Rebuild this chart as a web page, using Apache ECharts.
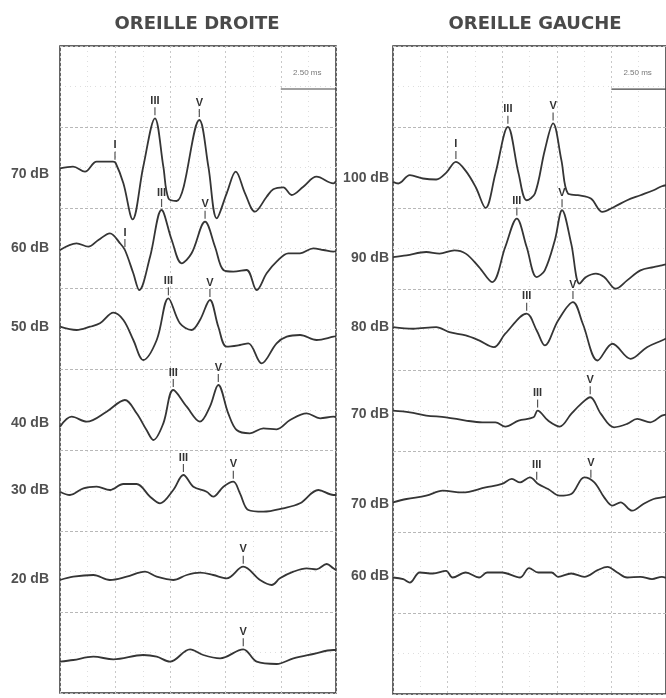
<!DOCTYPE html>
<html>
<head>
<meta charset="utf-8">
<script src="https://cdn.jsdelivr.net/npm/echarts/dist/echarts.min.js"></script>
<style>html,body{margin:0;padding:0;background:#fff}#c{width:666px;height:698px}</style>
</head>
<body>
<div id="c"></div>
<script>
// ---- Time axis (ms) ----
const timeMin = 0, timeMax = 12.5, timeStep = 2.5;
const ampMin = 0, ampMax = 647, ampStep = 80.875;

// ---- OREILLE DROITE ----
const droiteLevels = ['70 dB', '60 dB', '50 dB', '40 dB', '30 dB', '20 dB', ''];
const droiteBase = [519, 445, 366, 270, 203, 114, 31];
const droite70 = [[0,5.7],[0.59,7.3],[1.13,2.3],[1.66,12.3],[2.40,12.3],[2.52,11],[2.87,-9.3],[3.29,-45.3],[3.77,7.3],[4.30,55.7],[4.68,7.3],[4.91,-24.3],[5.28,-27],[6.31,54],[6.72,7.3],[7.10,-44.3],[7.55,-19.3],[7.96,2.3],[8.38,-19.3],[8.83,-37.7],[9.36,-22.7],[9.66,-15.3],[10.11,-13.3],[10.49,-21],[11.02,-12.7],[11.62,-2.7],[12.38,-9.3],[12.5,-7]];
const droite60 = [[0,-2],[0.75,4.7],[1.28,1.3],[1.74,8],[2.26,14.7],[2.72,4.7],[2.94,-2],[3.32,-25.3],[3.59,-42],[4.08,-8.7],[4.60,38],[5.06,8],[5.51,-15.3],[5.96,-5.3],[6.57,26.3],[7.02,1.3],[7.40,-22],[7.85,-23.7],[8.45,-22],[8.91,-42],[9.36,-25.3],[9.81,-13.7],[10.34,-5.3],[10.87,-5.3],[11.47,-0.3],[11.93,-2],[12.38,-3.7],[12.5,-3]];
const droite50 = [[0,0.3],[0.75,-3],[1.36,0.3],[1.81,3.7],[2.42,14.3],[2.87,7],[3.32,-13],[3.77,-33],[4.38,-13],[4.91,28.7],[5.43,3.7],[5.96,-3],[6.34,7],[6.79,27],[7.17,0.3],[7.55,-19.7],[8.15,-18],[8.53,-16.3],[9.13,-36.3],[9.81,-16.3],[10.27,-9.7],[10.87,-8],[11.62,-13],[12.38,-9.7],[12.5,-9]];
const droite40 = [[0,-3.7],[0.53,6.3],[1.21,1.3],[2.11,11.3],[2.94,23],[3.47,9.7],[3.92,-7],[4.23,-17],[4.68,-0.3],[5.13,33],[5.74,16.3],[6.34,1.3],[6.79,16.3],[7.17,38],[7.62,9.7],[8.0,-7],[8.60,-10.3],[9.21,-5.3],[9.81,-6.3],[10.42,3],[11.17,9.7],[11.78,4.7],[12.38,6.3],[12.5,6]];
const droite30 = [[0,-1.7],[0.45,-5],[1.06,1.7],[1.66,3.3],[2.26,0],[2.87,6],[3.47,6],[4.08,-6.7],[4.53,-13.3],[5.13,0],[5.59,15],[6.04,3.3],[6.64,-1.7],[6.94,-6.7],[7.40,3.3],[7.85,8.3],[8.15,-3.3],[8.53,-20],[9.21,-21.7],[10.11,-18.3],[10.87,-13.3],[11.70,0],[12.38,-5],[12.5,-5]];
const droite20 = [[0,-1],[0.60,2.3],[1.51,4],[2.26,-1],[3.02,2.3],[3.85,7.3],[4.38,2.3],[5.13,-1],[5.74,4],[6.34,6.3],[6.94,4],[7.55,0.7],[8.30,12.3],[9.06,-1],[9.59,-6],[9.96,0.7],[10.57,7.3],[11.17,10.7],[11.62,9.7],[12.08,15],[12.38,10.7],[12.5,9]];
const droiteBottom = [[0,0.3],[0.60,2],[1.51,5.3],[2.42,2.7],[3.77,7],[4.38,5.3],[4.98,0.3],[5.89,12.7],[6.49,7],[7.25,3.7],[8.30,12.7],[8.91,0.3],[9.81,-2],[10.57,3.7],[11.47,8],[12.38,12],[12.5,12]];
const droiteTraces = [droite70, droite60, droite50, droite40, droite30, droite20, droiteBottom];
const droiteMarks = [
  [['I',2.49],['III',4.30],['V',6.31]],
  [['I',2.94],['III',4.60],['V',6.57]],
  [['III',4.91],['V',6.79]],
  [['III',5.13],['V',7.17]],
  [['III',5.59],['V',7.85]],
  [['V',8.30]],
  [['V',8.30]]
];

// ---- OREILLE GAUCHE ----
const gaucheLevels = ['100 dB', '90 dB', '80 dB', '70 dB', '70 dB', '60 dB'];
const gaucheBase = [515, 435, 366, 279, 190, 118];
const gauche100 = [[0,-3.7],[0.24,-5.3],[0.77,3],[1.37,-0.3],[1.98,-1.3],[2.43,5.3],[2.88,16.3],[3.33,7.3],[3.79,-9],[4.24,-29.7],[4.69,4.7],[5.26,51.3],[5.75,4.7],[6.12,-22],[6.50,-15.3],[6.95,28],[7.33,54.7],[7.71,18],[8.01,-15.3],[8.46,-17],[9.06,-20.3],[9.59,-33.7],[10.12,-28.7],[10.72,-22],[11.33,-17],[11.93,-12],[12.31,-8],[12.5,-7]];
const gauche90 = [[0,1.3],[0.62,3],[1.52,6.3],[2.13,4.7],[2.81,8],[3.33,4.7],[3.94,-8.7],[4.54,-23.7],[5.14,11.3],[5.67,39.7],[6.12,11.3],[6.58,-18.7],[6.95,-12],[7.41,18],[7.74,48],[8.16,14.7],[8.54,-25.3],[8.84,-18.7],[9.29,-15.3],[9.67,-18.7],[10.20,-30.3],[10.72,-22],[11.33,-12],[11.93,-8.7],[12.31,-7],[12.5,-6]];
const gauche80 = [[0,0.3],[0.92,-1.3],[1.98,0.3],[2.58,-4.7],[3.33,-8],[3.94,-13],[4.62,-19.7],[5.14,-6.3],[6.12,13.7],[6.58,-3],[6.95,-18],[7.56,7],[8.24,25.3],[8.69,3.7],[9.37,-33],[10.05,-16.3],[10.88,-31.3],[11.63,-19.7],[12.31,-13],[12.5,-11]];
const gauche70a = [[0,4],[0.77,2.3],[1.52,-1],[2.43,-2.7],[3.33,-6],[4.09,-7.7],[4.69,-7.7],[5.14,-12],[5.75,-6],[6.43,-2.7],[6.62,4],[7.10,-6],[7.63,-12],[8.16,0.7],[8.61,10.7],[9.03,17.3],[9.52,0.7],[10.12,-12.7],[10.72,-9.3],[11.18,-4.3],[11.78,-7.7],[12.31,-1],[12.5,0]];
const gauche70b = [[0,1.3],[0.62,4.7],[1.52,8],[2.28,13],[3.18,11.3],[4.24,16.3],[4.99,19.7],[5.44,24.7],[5.82,21.3],[6.27,26.3],[6.65,19.7],[7.10,14.7],[7.63,8],[8.16,9.7],[8.76,26.3],[9.22,21.3],[9.67,6.3],[10.05,-2],[10.42,1.3],[10.95,-7],[11.48,0],[11.93,4.7],[12.31,6.3],[12.5,7]];
const gauche60 = [[0,-1.7],[0.47,-3.3],[0.77,-6.7],[1.22,3.3],[1.83,2.3],[2.43,5],[2.73,-1.7],[3.33,3.3],[3.94,-1.7],[4.31,3.3],[4.99,3.3],[5.82,-1.7],[6.23,7.7],[6.65,3.3],[7.26,3.3],[7.56,-1],[8.16,2.3],[8.76,-1],[9.37,5.7],[9.82,9],[10.27,3.3],[10.72,-1.7],[11.33,-1],[11.86,-3.3],[12.31,-1],[12.5,-2]];
const gaucheTraces = [gauche100, gauche90, gauche80, gauche70a, gauche70b, gauche60];
const gaucheMarks = [
  [['I',2.88],['III',5.26],['V',7.33]],
  [['III',5.67],['V',7.74]],
  [['III',6.12],['V',8.24]],
  [['III',6.62],['V',9.03]],
  [['III',6.58],['V',9.06]],
  []
];

// ---- Scale bar ----
const scaleBarTimes = [10, 12.5];
const scaleBarLevel = 604;
const scaleBarText = '2.50 ms';
const titles = ['OREILLE DROITE', 'OREILLE GAUCHE'];

function interp(pts, t) {
  for (let i = 0; i < pts.length - 1; i++) {
    const a = pts[i], b = pts[i + 1];
    if (t >= a[0] && t <= b[0]) return a[1] + (b[1] - a[1]) * (t - a[0]) / (b[0] - a[0]);
  }
  return pts[pts.length - 1][1];
}

const traceColor = '#353535';
const series = [];
function addPanel(idx, traces, bases, levels, marks, labelDist) {
  traces.forEach((pts, k) => {
    const base = bases[k];
    series.push({
      type: 'line', xAxisIndex: idx, yAxisIndex: idx,
      data: pts.map(p => [p[0], base + p[1]]),
      smooth: 0.35, symbol: 'none', silent: true,
      lineStyle: { color: traceColor, width: 1.8 },
      markPoint: {
        symbol: 'rect', symbolSize: [1.2, 8], symbolOffset: [0, -7],
        itemStyle: { color: '#555' }, silent: true,
        label: { show: true, position: 'top', distance: 1, formatter: '{b}', color: '#333',
                 fontSize: 11, fontWeight: 'bold', fontFamily: 'Liberation Sans' },
        data: marks[k].map(m => ({ name: m[0], coord: [m[1], base + interp(pts, m[1])] }))
      }
    });
  });
  series.push({
    type: 'scatter', xAxisIndex: idx, yAxisIndex: idx, symbolSize: 0, silent: true,
    data: levels.map((l, k) => ({ name: l, value: [timeMin, bases[k]] })),
    label: { show: true, position: 'left', distance: labelDist, formatter: '{b}', color: '#262626',
             fontSize: 14, fontWeight: 'bold', fontFamily: 'Liberation Sans' }
  });
  series.push({
    type: 'line', xAxisIndex: idx, yAxisIndex: idx, symbol: 'none', silent: true,
    data: scaleBarTimes.map(t => [t, scaleBarLevel]),
    lineStyle: { color: '#444', width: 1.2 }
  });
  series.push({
    type: 'scatter', xAxisIndex: idx, yAxisIndex: idx, symbolSize: 0, silent: true,
    data: [{ name: scaleBarText, value: [(scaleBarTimes[0] + scaleBarTimes[1]) / 2 - 0.05, scaleBarLevel + 16] }],
    label: { show: true, position: 'inside', formatter: '{b}', color: '#555', fontSize: 8, fontFamily: 'Liberation Sans' }
  });
}
addPanel(0, droiteTraces, droiteBase, droiteLevels, droiteMarks, 11);
addPanel(1, gaucheTraces, gaucheBase, gaucheLevels, gaucheMarks, 4);

function xAx(i) {
  return { type: 'value', gridIndex: i, min: timeMin, max: timeMax, interval: timeStep,
    axisLine: { show: false }, axisTick: { show: false }, axisLabel: { show: false },
    splitLine: { show: true, lineStyle: { color: '#c8c8c8', width: 1, type: [2, 3] } },
    minorTick: { show: false, splitNumber: 2 },
    minorSplitLine: { show: true, lineStyle: { color: '#dedede', width: 1, type: [1, 4] } } };
}
function yAx(i) {
  return { type: 'value', gridIndex: i, min: ampMin, max: ampMax, interval: ampStep,
    axisLine: { show: false }, axisTick: { show: false }, axisLabel: { show: false },
    splitLine: { show: true, lineStyle: { color: '#b8b8b8', width: 1, type: [3, 2] } },
    minorTick: { show: false, splitNumber: 2 },
    minorSplitLine: { show: true, lineStyle: { color: '#dedede', width: 1, type: [1, 4] } } };
}

const chart = echarts.init(document.getElementById('c'), null, { renderer: 'canvas' });
chart.setOption({
  animation: false,
  backgroundColor: '#fff',
  title: [
    { text: titles[0], left: 197, top: 15, textAlign: 'center', padding: 0,
      textStyle: { fontFamily: 'DejaVu Sans', fontWeight: 'bold', fontSize: 18, color: '#4a4a4a' } },
    { text: titles[1], left: 535, top: 15, textAlign: 'center', padding: 0,
      textStyle: { fontFamily: 'DejaVu Sans', fontWeight: 'bold', fontSize: 18, color: '#4a4a4a' } }
  ],
  grid: [
    { left: 60, top: 46, width: 276, height: 647, show: true, borderColor: '#333', borderWidth: 1.5, backgroundColor: 'transparent' },
    { left: 393, top: 46, width: 276, height: 648, show: true, borderColor: '#333', borderWidth: 1.5, backgroundColor: 'transparent' }
  ],
  xAxis: [xAx(0), xAx(1)],
  yAxis: [yAx(0), yAx(1)],
  series: series
});
</script>
</body>
</html>
